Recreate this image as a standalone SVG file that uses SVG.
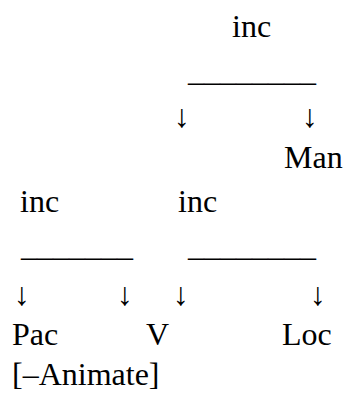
<svg xmlns="http://www.w3.org/2000/svg" width="344" height="394" viewBox="0 0 344 394">
<rect width="344" height="394" fill="#ffffff"/>
<g id="inc-top"><text x="232" y="37" font-family="Liberation Serif" font-size="32">inc</text></g>
<g id="connectors">
<text x="188" y="81" font-family="Liberation Serif" font-size="32">________</text>
<text x="174" y="127" font-family="Liberation Serif" font-size="32">↓</text>
<text x="302" y="127" font-family="Liberation Serif" font-size="32">↓</text>
<text x="21" y="256" font-family="Liberation Serif" font-size="32">_______</text>
<text x="188" y="256" font-family="Liberation Serif" font-size="32">________</text>
<text x="14" y="305" font-family="Liberation Serif" font-size="32">↓</text>
<text x="117" y="305" font-family="Liberation Serif" font-size="32">↓</text>
<text x="173" y="305" font-family="Liberation Serif" font-size="32">↓</text>
<text x="310" y="305" font-family="Liberation Serif" font-size="32">↓</text>
</g>
<g id="man"><text x="284" y="168" font-family="Liberation Serif" font-size="32">Man</text></g>
<g id="inc-left"><text x="20" y="212" font-family="Liberation Serif" font-size="32">inc</text></g>
<g id="inc-right"><text x="178" y="212" font-family="Liberation Serif" font-size="32">inc</text></g>
<g id="pac"><text x="12" y="345" font-family="Liberation Serif" font-size="32">Pac</text></g>
<g id="v"><text x="146" y="345" font-family="Liberation Serif" font-size="32">V</text></g>
<g id="loc"><text x="282" y="345" font-family="Liberation Serif" font-size="32">Loc</text></g>
<g id="animate"><text x="12" y="385" font-family="Liberation Serif" font-size="32">[–Animate]</text></g>
</svg>
